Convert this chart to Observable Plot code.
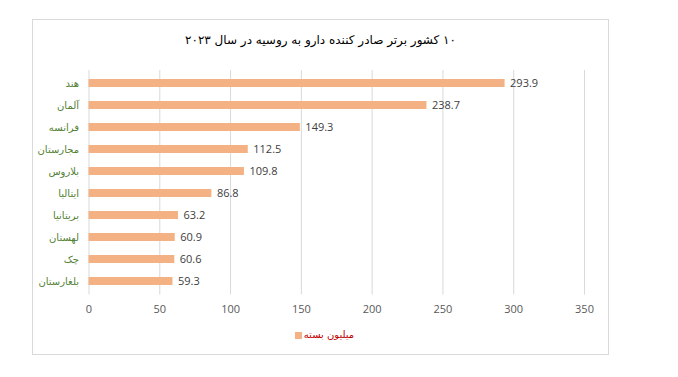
<!DOCTYPE html>
<html>
<head>
<meta charset="utf-8">
<script src="https://cdn.jsdelivr.net/npm/d3@7"></script>
<script src="https://cdn.jsdelivr.net/npm/@observablehq/plot@0.6"></script>
<style>
  html, body { margin: 0; padding: 0; background: #fff; }
  #wrap { position: relative; width: 678px; height: 377px; overflow: hidden; }
  #frame { position: absolute; left: 32px; top: 19px; width: 575px; height: 334px; border: 1px solid #d9d9d9; box-sizing: content-box; }
  #title { position: absolute; left: 32px; width: 577px; top: 33px; text-align: center; font-family: "DejaVu Sans", sans-serif; font-size: 12px; color: #000; direction: rtl; }
  #legend { position: absolute; left: 36px; width: 577px; top: 329px; text-align: center; font-family: "DejaVu Sans", sans-serif; font-size: 10px; color: #c00000; direction: rtl; }
  #legend .sw { display: inline-block; width: 7px; height: 7px; background: #F4B183; margin-right: 2px; vertical-align: middle; }
  #chart { position: absolute; left: 0; top: 0; }
</style>
</head>
<body>
<div id="wrap">
  <div id="frame"></div>
  <div id="chart"></div>
  <div id="title"></div>
  <div id="legend"></div>
</div>
<script>
const titleText = "۱۰ کشور برتر صادر کننده دارو به روسیه در سال ۲۰۲۳";
const seriesName = "میلیون بسته";
const countries = ["هند", "آلمان", "فرانسه", "مجارستان", "بلاروس", "ایتالیا", "بریتانیا", "لهستان", "چک", "بلغارستان"];
const values = [293.9, 238.7, 149.3, 112.5, 109.8, 86.8, 63.2, 60.9, 60.6, 59.3];
const xTicks = [0, 50, 100, 150, 200, 250, 300, 350];

const data = countries.map((c, i) => ({country: c, value: values[i]}));

document.getElementById("title").textContent = titleText;
const lg = document.getElementById("legend");
const t = document.createElement("span"); t.textContent = seriesName;
const s = document.createElement("span"); s.className = "sw";
lg.appendChild(t); lg.appendChild(s);

const chart = Plot.plot({
  width: 678,
  height: 377,
  marginLeft: 88.5,
  marginRight: 94,
  marginTop: 70,
  marginBottom: 82.5,
  style: {fontFamily: "'Open Sans', 'DejaVu Sans', sans-serif", fontSize: "11px", background: "transparent"},
  x: {domain: [0, 350], ticks: xTicks, label: null},
  y: {domain: countries, paddingInner: 0.64, paddingOuter: 0.32, label: null},
  marks: [
    Plot.gridX(xTicks, {stroke: "#d9d9d9", strokeOpacity: 1}),
    Plot.barX(data, {x: "value", y: "country", fill: "#F4B183"}),
    Plot.text(data, {x: "value", y: "country", text: d => d.value.toFixed(1), textAnchor: "start", dx: 5, fill: "#404040", fontSize: 11}),
    Plot.axisX({ticks: xTicks, tickSize: 0, tickPadding: 10, fill: "#595959", label: null, fontSize: 11}),
    Plot.axisY({tickSize: 0, tickPadding: 10, fill: "#538135", label: null, fontSize: 10, fontFamily: "'DejaVu Sans', sans-serif"})
  ]
});
document.getElementById("chart").appendChild(chart);
</script>
</body>
</html>
